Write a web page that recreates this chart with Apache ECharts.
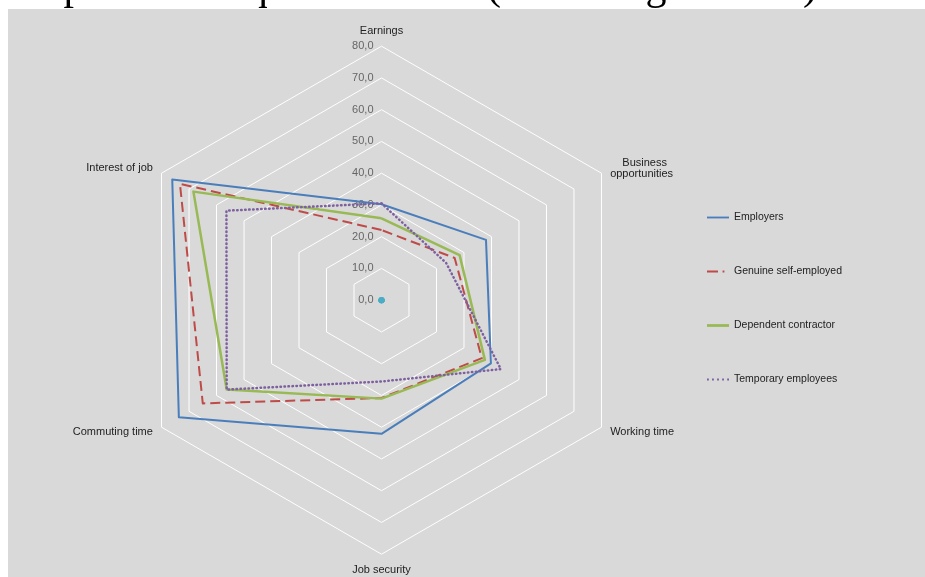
<!DOCTYPE html>
<html><head><meta charset="utf-8">
<script src="https://cdn.jsdelivr.net/npm/echarts@6/dist/echarts.min.js"></script>
<style>html,body{margin:0;padding:0;background:#fff}#c{width:925px;height:577px}</style>
</head><body><div id="c"></div>
<script>
// Categories in ECharts' counter-clockwise drawing order (reads clockwise as in the original: Earnings, Business opportunities, Working time, Job security, Commuting time, Interest of job)
const indicatorNames = ["Earnings", "Interest of job", "Commuting time", "Job security", "Working time", "    Business\nopportunities"];
const axisMax = 80;
const seriesNames = ["Employers", "Genuine self-employed", "Dependent contractor", "Temporary employees"];
const employers = [30.2, 76.1, 73.7, 42.1, 39.8, 38.0];
const genuineSelfEmployed = [22.1, 73.3, 65.0, 30.8, 36.5, 26.6];
const dependentContractor = [25.8, 68.4, 56.3, 31.0, 37.6, 28.4];
const temporaryEmployees = [30.5, 56.4, 56.3, 25.6, 43.4, 23.5];
const centreMarker = [0, 0, 0, 0, 0, 0];
const titleText = "Importance of different job's aspects - FR quarters 2019 (Percentage values)";

const chart = echarts.init(document.getElementById('c'), null, {renderer: 'canvas'});
const fmt = v => Number(v).toFixed(1).replace('.', ',');
const indicators = indicatorNames.map((n, i) => {
  const o = {name: n, min: 0, max: axisMax};
  if (i === 0) o.axisLabel = {show: true};
  return o;
});
const colors = ['#4a7ebb', '#be4b48', '#98b954', '#7d60a0'];
const dashes = ['solid', [10, 5], 'solid', [0.5, 3.5]];
const widths = [2, 2, 2.5, 2.5];
const legendIcons = [
  'path://M0,0h24v2h-24z',
  'path://M0,0h12v2h-12z M17,0h2v2h-2z M24,0h0.01v2h-0.01z',
  'path://M0,0h24v3h-24z',
  'path://M0,0h2v2h-2z M5.5,0h2v2h-2z M11,0h2v2h-2z M16.5,0h2v2h-2z M22,0h2v2h-2z'
];
const series = [{
  type: 'radar',
  symbol: 'none',
  data: [employers, genuineSelfEmployed, dependentContractor, temporaryEmployees].map((d, i) => ({
    name: seriesNames[i], value: d,
    lineStyle: {color: colors[i], width: widths[i], type: dashes[i], cap: i === 3 ? 'round' : 'butt'},
    itemStyle: {color: colors[i]}
  })).concat([{
    name: 'centre', value: centreMarker, symbol: 'circle', symbolSize: 6,
    lineStyle: {width: 0, opacity: 0}, itemStyle: {color: '#4bacc6'}
  }])
}];

chart.setOption({
  backgroundColor: '#ffffff',
  animation: false,
  graphic: [{type: 'rect', left: 8, top: 9, shape: {width: 925, height: 577}, style: {fill: '#d9d9d9'}, z: -10}],
  title: {text: titleText, right: 103, top: -38, textStyle: {fontFamily: 'Liberation Serif', fontWeight: 'normal', fontSize: 42, color: '#000'}},
  legend: {
    orient: 'vertical', left: 707, top: 212, padding: 0, itemGap: 43, itemWidth: 22, itemHeight: 14,
    data: seriesNames.map((n, i) => ({name: n, icon: legendIcons[i], itemStyle: {color: colors[i]}})),
    textStyle: {fontFamily: 'Liberation Sans', fontSize: 10.5, color: '#222'}
  },
  radar: {
    center: [381.5, 300.2], radius: 254, startAngle: 90, shape: 'polygon', splitNumber: 8,
    indicator: indicators,
    axisName: {color: '#222', fontFamily: 'Liberation Sans', fontSize: 11},
    nameGap: 10,
    axisLine: {show: false},
    axisTick: {show: false},
    splitLine: {lineStyle: {color: '#ffffff', width: 1}},
    splitArea: {show: false},
    axisLabel: {show: false, formatter: fmt, color: '#666', fontFamily: 'Liberation Sans', fontSize: 11, showMinLabel: true, showMaxLabel: true}
  },
  series: series
});
</script></body></html>
